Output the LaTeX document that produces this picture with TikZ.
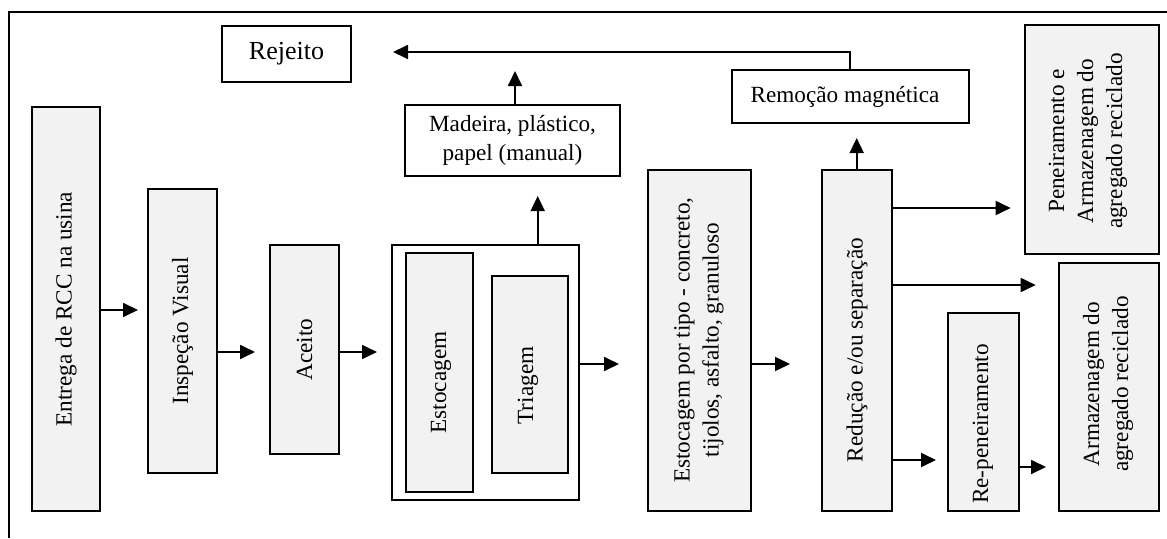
\documentclass[tikz,border=0pt]{standalone}
\usepackage{fontspec}
\setmainfont{Liberation Serif}
\usetikzlibrary{arrows.meta}
\definecolor{boxgray}{RGB}{242,242,242}
\tikzset{
  every node/.style={font=\fontsize{23.2}{29}\selectfont},
  box/.style={draw=black, line width=1.8pt, inner sep=0pt, outer sep=0pt, anchor=center},
  gbox/.style={box, fill=boxgray},
  txt/.style={inner sep=0pt, align=center},
  arr/.style={line width=1.8pt, -{Triangle[length=15pt,width=14pt]}},
  frame/.style={line width=1.8pt}
}
\begin{document}
\begin{tikzpicture}[x=1pt,y=-1pt]
\useasboundingbox (0,0) rectangle (1167,538);
\draw[frame] (9,538) -- (9,12) -- (1167,12);

% boxes
\node[box, minimum width=129pt, minimum height=56pt, font=\fontsize{26}{30}\selectfont] (rej) at (286.5,54) {Rejeito};
\node[gbox, minimum width=68pt, minimum height=404pt] (ent) at (66,309) {};
\node[txt, rotate=90] (entt) at (66,309) {Entrega de RCC na usina};
\node[gbox, minimum width=69pt, minimum height=284pt] (insp) at (182.5,331) {};
\node[txt, rotate=90] (inspt) at (182.5,331) {Inspeção Visual};
\node[gbox, minimum width=69pt, minimum height=209pt] (acei) at (304.5,349.5) {};
\node[txt, rotate=90] (aceit) at (304.5,349.5) {Aceito};
\node[box, minimum width=187.3pt, minimum height=255pt] (grp) at (485.3,372.5) {};
\node[gbox, minimum width=67.3pt, minimum height=239pt] (esto) at (439.3,372.5) {};
\node[txt, rotate=90] (estot) at (441,382.5) {Estocagem};
\node[gbox, minimum width=76.3pt, minimum height=197pt] (tri) at (529.8,374.5) {};
\node[txt, rotate=90] (trit) at (528,385.5) {Triagem};
\node[box, minimum width=215pt, minimum height=71pt] (mad) at (512.5,140.5) {};
\node[txt] (madt) at (512.5,140.5) {Madeira, plástico,\\papel (manual)};
\node[gbox, minimum width=103pt, minimum height=341pt] (etip) at (699.2,340.5) {};
\node[txt, rotate=90] (etipt) at (699,340) {Estocagem por tipo - concreto,\\tijolos, asfalto, granuloso};
\node[box, minimum width=237.6pt, minimum height=53pt] (rem) at (850.5,96.5) {};
\node[txt] (remt) at (845,97) {Remoção magnética};
\node[gbox, minimum width=70pt, minimum height=341pt] (red) at (856.7,340.5) {};
\node[txt, rotate=90] (redt) at (857,350) {Redução e/ou separação};
\node[gbox, minimum width=133.7pt, minimum height=229pt] (pen) at (1091.8,139.5) {};
\node[txt, rotate=90] (pent) at (1088,141) {Peneiramento e\\Armazenagem do\\agregado reciclado};
\node[gbox, minimum width=100pt, minimum height=248pt] (arm) at (1108.7,387) {};
\node[txt, rotate=90] (armt) at (1108,384) {Armazenagem do\\agregado reciclado};
\node[gbox, minimum width=71pt, minimum height=198pt] (rep) at (983.8,412) {};
\node[txt, rotate=90] (rept) at (983,424) {Re-peneiramento};

% free ends
\coordinate (a1) at (138,310);
\coordinate (a2) at (255,352);
\coordinate (a3) at (377,352);
\coordinate (a4) at (619,364);
\coordinate (a5) at (790,364);
\coordinate (a6) at (537.7,196);
\coordinate (a7) at (515,71);
\coordinate (c8) at (850,52);
\coordinate (a8) at (393,52);
\coordinate (a9) at (856.7,138);
\coordinate (a10) at (1010.7,208);
\coordinate (a11) at (1035.7,285);
\coordinate (a12) at (936,460);
\coordinate (a13) at (1046,467);

% connectors
\draw[arr] (ent.east |- a1) -- (a1);
\draw[arr] (insp.east |- a2) -- (a2);
\draw[arr] (acei.east |- a3) -- (a3);
\draw[arr] (grp.east |- a4) -- (a4);
\draw[arr] (etip.east |- a5) -- (a5);
\draw[arr] (grp.north -| a6) -- (a6);
\draw[arr] (mad.north -| a7) -- (a7);
\draw[arr] (rem.north -| c8) -- (c8) -- (a8);
\draw[arr] (red.north -| a9) -- (a9);
\draw[arr] (red.east |- a10) -- (a10);
\draw[arr] (red.east |- a11) -- (a11);
\draw[arr] (red.east |- a12) -- (a12);
\draw[arr] (rep.east |- a13) -- (a13);
\end{tikzpicture}
\end{document}
